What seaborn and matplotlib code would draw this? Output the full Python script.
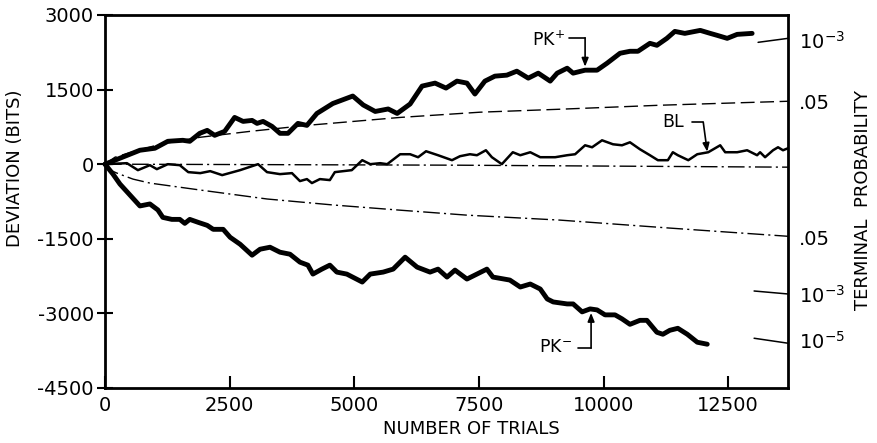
import numpy as np
import pandas as pd
import matplotlib
matplotlib.use("Agg")
import matplotlib.pyplot as plt
import seaborn as sns

# ---- data ----
pk_plus_trials = [0, 500, 700, 1000, 1260, 1560, 1700, 1900, 2050, 2200, 2400, 2600, 2770, 2950,
                  3050, 3170, 3350, 3510, 3670, 3870, 4050, 4250, 4570, 4970, 5180, 5420, 5680,
                  5860, 6120, 6360, 6620, 6840, 7060, 7260, 7420, 7620, 7820, 8060, 8260, 8490,
                  8690, 8930, 9070, 9270, 9390, 9630, 9870, 10070, 10330, 10530, 10690, 10930,
                  11070, 11270, 11430, 11630, 11940, 12140, 12280, 12480, 12680, 12980]
pk_plus_dev = [0, 200, 280, 320, 460, 480, 460, 620, 680, 580, 660, 940, 860, 880,
               820, 860, 760, 620, 620, 820, 780, 1020, 1220, 1370, 1190, 1060, 1110,
               1020, 1210, 1570, 1630, 1530, 1670, 1630, 1410, 1670, 1770, 1790, 1870, 1730,
               1830, 1670, 1830, 1930, 1830, 1890, 1890, 2030, 2230, 2270, 2270, 2430,
               2390, 2530, 2670, 2630, 2690, 2630, 2590, 2530, 2610, 2630]

bl_trials = [0, 440, 660, 900, 1040, 1260, 1500, 1670, 1910, 2110, 2350, 2710, 3070, 3250,
             3510, 3750, 3910, 4050, 4150, 4310, 4510, 4610, 4950, 5160, 5320, 5520, 5660,
             5920, 6120, 6280, 6440, 6680, 6960, 7120, 7320, 7460, 7640, 7760, 7960, 8180,
             8330, 8530, 8730, 9030, 9270, 9430, 9630, 9770, 9970, 10190, 10370, 10530,
             10730, 10930, 11090, 11290, 11390, 11490, 11700, 11880, 12100, 12340, 12440,
             12680, 12880, 13080, 13140, 13240, 13400, 13500, 13600, 13700]
bl_dev = [0, 20, -120, -20, -100, 0, -20, -160, -180, -140, -220, -120, 0, -160,
          -200, -180, -340, -300, -380, -300, -320, -160, -120, 80, 0, 20, 0,
          200, 200, 140, 260, 180, 80, 160, 200, 180, 280, 140, 0, 240,
          180, 240, 140, 140, 180, 200, 380, 340, 480, 400, 380, 440,
          300, 180, 80, 80, 240, 180, 80, 200, 240, 380, 240,
          240, 280, 180, 240, 140, 280, 340, 280, 320]

pk_minus_trials = [0, 160, 300, 500, 700, 900, 1060, 1160, 1340, 1500, 1600, 1700, 1870, 2050,
                   2170, 2370, 2510, 2710, 2950, 3110, 3310, 3510, 3710, 3910, 4070, 4170, 4350,
                   4510, 4650, 4850, 5160, 5320, 5580, 5780, 6020, 6260, 6520, 6680, 6860, 7020,
                   7260, 7460, 7660, 7780, 8120, 8330, 8530, 8730, 8870, 8990, 9270, 9390, 9570,
                   9730, 9870, 10030, 10230, 10370, 10530, 10730, 10870, 11070, 11190, 11330,
                   11490, 11680, 11880, 12080]
pk_minus_dev = [0, -200, -400, -620, -840, -800, -920, -1070, -1110, -1110, -1190, -1110, -1170, -1230,
                -1310, -1310, -1470, -1610, -1830, -1710, -1670, -1770, -1810, -1970, -2030, -2210, -2110,
                -2030, -2170, -2210, -2370, -2210, -2170, -2110, -1870, -2070, -2170, -2110, -2270, -2130,
                -2310, -2210, -2110, -2270, -2330, -2470, -2410, -2510, -2710, -2770, -2810, -2810, -2970,
                -2910, -2930, -3030, -3030, -3110, -3220, -3140, -3140, -3380, -3420, -3340,
                -3300, -3420, -3580, -3620]

upper05_trials = [0, 200, 460, 1100, 1900, 2910, 4050, 5920, 7520, 9130, 11130, 13700]
upper05_dev = [0, 140, 220, 400, 540, 660, 780, 940, 1045, 1105, 1185, 1265]

lower05_trials = [0, 60, 240, 560, 900, 1910, 3250, 4570, 5920, 7260, 9130, 11330, 13700]
lower05_dev = [0, -100, -180, -300, -380, -520, -700, -820, -925, -1025, -1125, -1285, -1450]

mean_trials = [0, 7000, 13700]
mean_dev = [0, -20, -60]

# terminal-probability curve ends (short segments at the right edge)
p3_upper_trials = [13100, 13700]
p3_upper_dev = [2450, 2530]
p3_lower_trials = [13020, 13700]
p3_lower_dev = [-2550, -2610]
p5_lower_trials = [13020, 13700]
p5_lower_dev = [-3500, -3600]

prob_tick_values = [2490, 1265, -1467, -2613, -3540]
prob_tick_labels = [r"$10^{-3}$", ".05", ".05", r"$10^{-3}$", r"$10^{-5}$"]

x_ticks = [0, 2500, 5000, 7500, 10000, 12500]
y_ticks = [3000, 1500, 0, -1500, -3000, -4500]

# ---- figure ----
sns.set_style("ticks")
plt.rcParams['font.family'] = ['DejaVu Sans']
plt.rcParams['mathtext.fontset'] = 'dejavusans'
for k in ["text.color", "axes.labelcolor", "xtick.color", "ytick.color", "axes.edgecolor"]:
    plt.rcParams[k] = "black"

fig = plt.figure(figsize=(8.78, 4.43), dpi=100)
ax = fig.add_axes([0.1196, 0.1242, 0.7779, 0.8420])

def draw(xs, ys, lw, ls="-"):
    df = pd.DataFrame({"trials": xs, "dev": ys})
    sns.lineplot(data=df, x="trials", y="dev", ax=ax, color="black", lw=lw, ls=ls,
                 errorbar=None, sort=False, legend=False, clip_on=False)

draw(upper05_trials, upper05_dev, 1.0, (0, (10, 4)))
draw(mean_trials, mean_dev, 1.0, (0, (12, 3, 1.5, 3)))
draw(lower05_trials, lower05_dev, 1.0, (0, (12, 3, 1.5, 3)))
draw(p3_upper_trials, p3_upper_dev, 1.1)
draw(p3_lower_trials, p3_lower_dev, 1.1)
draw(p5_lower_trials, p5_lower_dev, 1.1)
draw(bl_trials, bl_dev, 1.8)
draw(pk_plus_trials, pk_plus_dev, 3.5)
draw(pk_minus_trials, pk_minus_dev, 3.5)

ax.set_xlim(0, 13700)
ax.set_ylim(-4500, 3000)
ax.set_xticks(x_ticks)
ax.set_xticklabels([str(v) for v in x_ticks])
ax.set_yticks(y_ticks)
ax.set_yticklabels([str(v) for v in y_ticks])
ax.tick_params(axis="x", direction="in", length=9, width=1.5, labelsize=14, pad=6, top=False,
               colors="black")
ax.tick_params(axis="y", direction="inout", length=12, width=1.5, labelsize=14, pad=2, right=False,
               colors="black")
for s in ax.spines.values():
    s.set_visible(True)
    s.set_linewidth(2.0)
    s.set_color("black")

ax.set_xlabel("NUMBER OF TRIALS", fontsize=13, color="black")
ax.xaxis.set_label_coords(0.537, -0.085)
ax.set_ylabel("DEVIATION (BITS)", fontsize=13, color="black")
ax.yaxis.set_label_coords(-0.118, 0.59)

ax2 = ax.twinx()
ax2.set_position(ax.get_position())
ax2.set_ylim(-4500, 3000)
ax2.set_yticks(prob_tick_values)
ax2.set_yticklabels(prob_tick_labels)
ax2.tick_params(axis="y", length=0, labelsize=14, pad=8, colors="black")
for s in ax2.spines.values():
    s.set_visible(False)
ax2.set_ylabel("TERMINAL  PROBABILITY", fontsize=13, color="black")
ax2.yaxis.set_label_coords(1.097, 0.505)

# annotations
arrow_kw = dict(arrowstyle="-|>,head_length=0.5,head_width=0.2", color="black", lw=1.2,
                shrinkA=0, shrinkB=0)
ax.text(8560, 2490, r"PK$^{+}$", fontsize=12.5, ha="left", va="center", color="black")
ax.plot([9300, 9630], [2540, 2540], color="black", lw=1.2)
ax.annotate("", xy=(9630, 1960), xytext=(9630, 2540), arrowprops=arrow_kw)

ax.text(11170, 844, "BL", fontsize=12.5, ha="left", va="center", color="black")
ax.plot([11780, 12000], [844, 844], color="black", lw=1.2)
ax.annotate("", xy=(12080, 250), xytext=(12000, 844), arrowprops=arrow_kw)

ax.text(8700, -3680, r"PK$^{-}$", fontsize=12.5, ha="left", va="center", color="black")
ax.plot([9490, 9750], [-3700, -3700], color="black", lw=1.2)
ax.annotate("", xy=(9750, -2990), xytext=(9750, -3700), arrowprops=arrow_kw)

fig.savefig("out.png", dpi=100)
